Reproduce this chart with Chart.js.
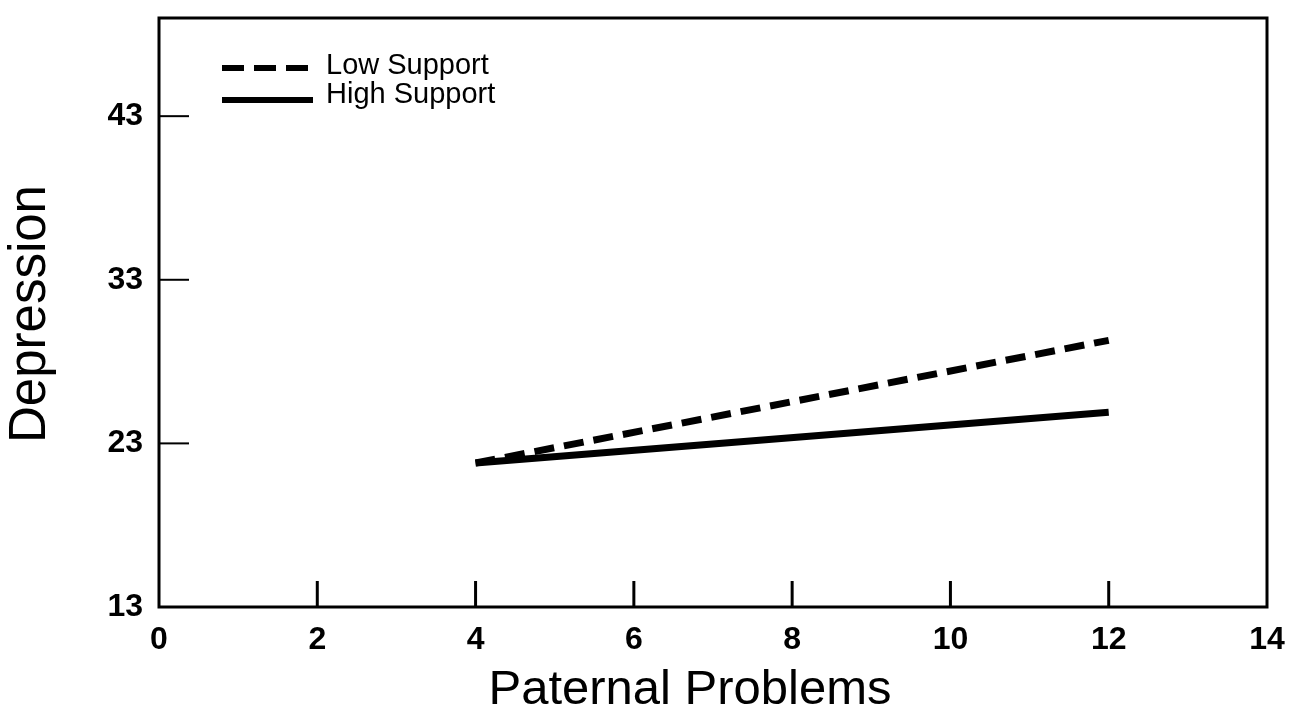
<!DOCTYPE html>
<html>
<head>
<meta charset="utf-8">
<script src="https://cdn.jsdelivr.net/npm/chart.js@4.4.0/dist/chart.umd.min.js"></script>
<style>
  html, body { margin: 0; background: #fff; }
</style>
</head>
<body>
<canvas id="chart" width="1294" height="719"></canvas>
<script>
// values
const xValues = [4, 12];
const lowSupport = [21.8, 29.3];
const highSupport = [21.8, 24.9];
const xTicks = [0, 2, 4, 6, 8, 10, 12, 14];
const yTicks = [13, 23, 33, 43];
const xTitle = 'Paternal Problems';
const yTitle = 'Depression';

const FONT = '"Liberation Sans", Arial, Helvetica, sans-serif';

// box, inside tick marks, legend and axis titles
const frame = {
  id: 'frame',
  afterDraw(chart) {
    const { ctx, chartArea: a, scales: { x, y } } = chart;
    ctx.save();
    ctx.strokeStyle = '#000';
    ctx.lineWidth = 3;
    ctx.strokeRect(a.left, a.top, a.right - a.left, a.bottom - a.top);

    ctx.lineWidth = 3;
    xTicks.filter(v => v > 0 && v < 14).forEach(v => {
      const px = x.getPixelForValue(v);
      ctx.beginPath(); ctx.moveTo(px, a.bottom); ctx.lineTo(px, a.bottom - 26); ctx.stroke();
    });
    ctx.lineWidth = 2;
    yTicks.filter(v => v > 13).forEach(v => {
      const py = y.getPixelForValue(v);
      ctx.beginPath(); ctx.moveTo(a.left, py); ctx.lineTo(a.left + 30, py); ctx.stroke();
    });

    // legend
    ctx.lineWidth = 6;
    ctx.setLineDash([22, 10]);
    ctx.beginPath(); ctx.moveTo(222, 68); ctx.lineTo(308, 68); ctx.stroke();
    ctx.setLineDash([]);
    ctx.beginPath(); ctx.moveTo(222, 100); ctx.lineTo(313, 100); ctx.stroke();
    ctx.fillStyle = '#000';
    ctx.font = '29px ' + FONT;
    ctx.textAlign = 'left';
    ctx.textBaseline = 'middle';
    ctx.fillText(chart.data.datasets[0].label, 326, 66);
    ctx.fillText(chart.data.datasets[1].label, 326, 95);

    // axis titles
    ctx.font = '49px ' + FONT;
    ctx.textAlign = 'center';
    ctx.fillText(xTitle, 690, 690);
    ctx.font = '51px ' + FONT;
    ctx.translate(31, 314);
    ctx.rotate(-Math.PI / 2);
    ctx.fillText(yTitle, 0, 0);
    ctx.restore();
  }
};

const noPad = s => { s.paddingTop = 0; s.paddingBottom = 0; s.paddingLeft = 0; s.paddingRight = 0; };

new Chart(document.getElementById('chart'), {
  type: 'line',
  data: {
    datasets: [
      {
        label: 'Low Support',
        data: xValues.map((v, i) => ({ x: v, y: lowSupport[i] })),
        borderColor: '#000',
        borderWidth: 7,
        borderDash: [20, 10],
        pointRadius: 0,
        fill: false
      },
      {
        label: 'High Support',
        data: xValues.map((v, i) => ({ x: v, y: highSupport[i] })),
        borderColor: '#000',
        borderWidth: 7,
        pointRadius: 0,
        fill: false
      }
    ]
  },
  options: {
    responsive: false,
    animation: false,
    devicePixelRatio: 1,
    layout: { padding: { top: 18, right: 27, left: 0, bottom: 0 } },
    plugins: { legend: { display: false }, tooltip: { enabled: false } },
    scales: {
      x: {
        type: 'linear', min: 0, max: 14,
        afterBuildTicks: s => { s.ticks = xTicks.map(v => ({ value: v })); },
        afterFit: s => { s.height = 112; noPad(s); },
        grid: { display: false, drawTicks: false },
        border: { display: false },
        ticks: { color: '#000', font: { family: FONT, size: 32, weight: 'bold' }, padding: 14, maxRotation: 0, autoSkip: false }
      },
      y: {
        type: 'linear', min: 13, max: 49,
        afterBuildTicks: s => { s.ticks = yTicks.map(v => ({ value: v })); },
        afterFit: s => { s.width = 159; noPad(s); },
        grid: { display: false, drawTicks: false },
        border: { display: false },
        ticks: { color: '#000', font: { family: FONT, size: 32, weight: 'bold' }, padding: 16 }
      }
    }
  },
  plugins: [frame]
});
</script>
</body>
</html>
